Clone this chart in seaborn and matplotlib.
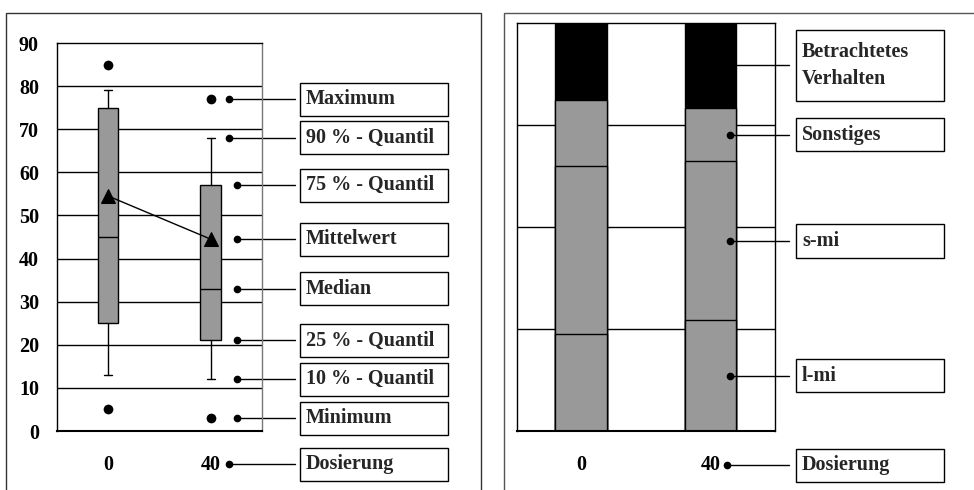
import numpy as np
import matplotlib.pyplot as plt
from matplotlib.patches import Rectangle
import seaborn as sns

dosierung = ["0", "40"]

# Kennwerte der Boxplots je Dosierung
minimum = [5, 3]
q10 = [13, 12]
q25 = [25, 21]
median = [45, 33]
mittelwert = [54.5, 44.5]
q75 = [75, 57]
q90 = [79, 68]
maximum = [85, 77]

# Anteile des Verhaltens in %
l_mi = [23.8, 27.1]
s_mi = [41.2, 39.0]
sonstiges = [16.1, 13.1]
betrachtet = [18.9, 20.8]

box_labels = ["Maximum", "90 % - Quantil", "75 % - Quantil", "Mittelwert",
              "Median", "25 % - Quantil", "10 % - Quantil", "Minimum"]
bar_labels = ["l-mi", "s-mi", "Sonstiges", "Betrachtetes\nVerhalten"]

GRAU = "#999999"

sns.set_theme(style="white")
plt.rcParams["font.family"] = ["Liberation Serif", "DejaVu Serif"]
plt.rcParams["font.weight"] = "bold"
FS = 14.5

fig = plt.figure(figsize=(9.74, 4.9), dpi=100)
ax1 = fig.add_axes([0.0585, 0.1204, 0.2105, 0.7918])
ax2 = fig.add_axes([0.5305, 0.1204, 0.2652, 0.8327])

# Rahmen um beide Diagramme
fig.add_artist(Rectangle((0.0062, -0.05), 0.4877, 1.0235, transform=fig.transFigure,
                         fill=False, ec="#333333", lw=1))
fig.add_artist(Rectangle((0.5175, -0.05), 0.6, 1.0235, transform=fig.transFigure,
                         fill=False, ec="#555555", lw=1))


def legend_item(ax, y, label, dot_x, line_x0, box_x0, box_x1, box_h, dot=True):
    tr = ax.get_yaxis_transform()
    if dot:
        ax.plot([dot_x], [y], "o", color="black", ms=4.5, transform=tr, clip_on=False, zorder=5)
    ax.plot([line_x0, box_x0 - 0.025], [y, y], color="black", lw=1, transform=tr, clip_on=False)
    ax.add_patch(Rectangle((box_x0, y - box_h / 2), box_x1 - box_x0, box_h, transform=tr,
                           fill=False, ec="black", lw=1, clip_on=False))
    ax.text(box_x0 + 0.03 * (box_x1 - box_x0) / 0.72, y, label, transform=tr, ha="left",
            va="center", fontsize=FS, fontweight="bold", linespacing=1.45, clip_on=False)


def style_axes(ax, ymax, grid, right_col):
    ax.set_xlim(-0.5, len(dosierung) - 0.5)
    ax.set_ylim(0, ymax)
    ax.set_xticks(range(len(dosierung)))
    ax.set_xticklabels(dosierung, fontsize=FS, fontweight="bold")
    ax.set_xticks(np.arange(-0.5, len(dosierung), 1.0), minor=True)
    ax.tick_params(axis="x", which="major", length=0, pad=17, colors="black")
    ax.tick_params(axis="x", which="minor", length=6, width=1, color="black", direction="out")
    ax.set_xlabel("")
    ax.set_ylabel("")
    for y in grid:
        ax.axhline(y, color="black", lw=1, zorder=0)
    for side in ["top", "left"]:
        ax.spines[side].set_color("black")
        ax.spines[side].set_linewidth(1)
    ax.spines["right"].set_color(right_col)
    ax.spines["right"].set_linewidth(1)
    ax.spines["bottom"].set_color("black")
    ax.spines["bottom"].set_linewidth(1.5)


# linkes Diagramm: Boxplots
stats = []
for i in range(len(dosierung)):
    stats.append(dict(med=median[i], q1=q25[i], q3=q75[i], whislo=q10[i], whishi=q90[i], fliers=[]))
ax1.bxp(stats, positions=range(len(dosierung)), widths=0.2, patch_artist=True, showfliers=False,
        boxprops=dict(facecolor=GRAU, edgecolor="black", lw=1),
        medianprops=dict(color="black", lw=1),
        whiskerprops=dict(color="black", lw=1),
        capprops=dict(color="black", lw=1), capwidths=0.08, manage_ticks=False, zorder=2)

ext_x = dosierung * 2
ext_y = maximum + minimum
sns.stripplot(x=ext_x, y=ext_y, jitter=False, color="black", size=7, ax=ax1, zorder=4)
sns.pointplot(x=dosierung, y=mittelwert, color="black", markers="^", markersize=10,
              linewidth=1, errorbar=None, ax=ax1, zorder=5)

style_axes(ax1, 90, range(10, 90, 10), "#777777")
ax1.set_yticks(range(0, 91, 10))
ax1.set_yticklabels([str(v) for v in range(0, 91, 10)], fontsize=FS, fontweight="bold")
ax1.tick_params(axis="y", length=0, pad=13, colors="black")

werte40 = [maximum[1], q90[1], q75[1], mittelwert[1], median[1], q25[1], q10[1], minimum[1]]
for k, (lab, y) in enumerate(zip(box_labels, werte40)):
    dx = 0.839 if k < 2 else 0.878
    legend_item(ax1, y, lab, dx, dx, 1.185, 1.907, 7.65)
legend_item(ax1, -7.7, "Dosierung", 0.839, 0.839, 1.185, 1.907, 7.65)

# rechtes Diagramm: gestapelte Balken
layers = np.array([l_mi, s_mi, sonstiges, betrachtet])
cum = np.cumsum(layers, axis=0)
farben = [GRAU, GRAU, GRAU, "black"]
for i in range(len(layers) - 1, -1, -1):
    sns.barplot(x=dosierung, y=cum[i], color=farben[i], width=0.4, saturation=1,
                edgecolor="black", linewidth=1, errorbar=None, ax=ax2, zorder=2)

style_axes(ax2, 100, [25, 50, 75], "black")
ax2.set_yticks([])

mitten = cum[:, 1] - layers[:, 1] / 2
hoehen = [8.2, 8.2, 8.2, 17.5]
for k in range(len(bar_labels)):
    punkt = k < 3
    x0 = 0.826 if punkt else 0.854
    legend_item(ax2, mitten[k], bar_labels[k], 0.826, x0, 1.081, 1.655, hoehen[k], dot=punkt)
legend_item(ax2, -8.4, "Dosierung", 0.815, 0.815, 1.081, 1.655, 8.2)

fig.savefig("out.png", dpi=100)
